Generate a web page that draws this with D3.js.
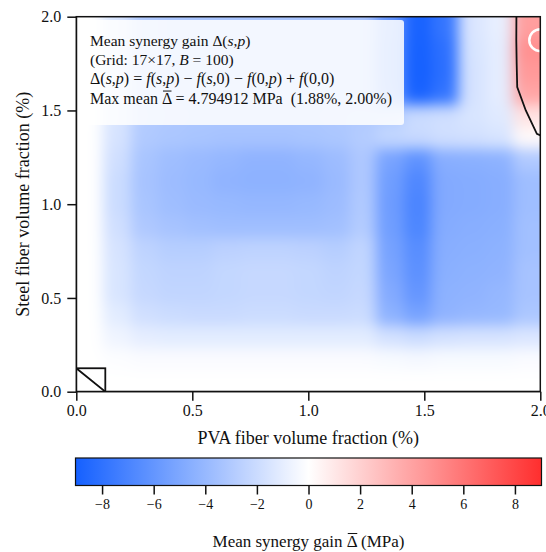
<!DOCTYPE html>
<html><head><meta charset="utf-8">
<script src="https://cdn.jsdelivr.net/npm/d3@7"></script>
<style>
body{margin:0;background:#fff}
svg{display:block}
text{font-family:"Liberation Serif","Times New Roman",serif;fill:#111;white-space:pre}
</style>
</head><body>
<svg id="chart" width="546" height="552"></svg>
<script>
// grid levels (%)
const pvaLevels   = [0,0.125,0.25,0.375,0.5,0.625,0.75,0.875,1.0,1.125,1.25,1.375,1.5,1.625,1.75,1.875,2.0];
const steelLevels = [0,0.125,0.25,0.375,0.5,0.625,0.75,0.875,1.0,1.125,1.25,1.375,1.5,1.625,1.75,1.875,2.0];
// mean synergy gain (MPa); one row per steel level (bottom to top), columns follow pvaLevels
const meanDelta = [
 [0,0,0,0,0,0,0,0,0,0,0,0,0,0,0,0,0],
 [0,-0.1,-0.2,-0.2,-0.2,-0.2,-0.2,-0.2,-0.2,-0.2,-0.2,-0.3,-0.4,-0.3,-0.3,-0.3,-0.2],
 [0,-0.6,-1.0,-1.1,-1.1,-1.1,-1.1,-1.1,-1.1,-1.1,-1.1,-1.7,-2.0,-1.7,-1.6,-1.6,-1.4],
 [0,-1.1,-1.8,-2.0,-2.1,-2.1,-2.0,-2.0,-2.1,-2.1,-2.0,-4.4,-5.3,-4.3,-4.1,-4.0,-3.2],
 [0,-1.5,-2.2,-2.4,-2.4,-2.3,-2.2,-2.2,-2.3,-2.4,-2.2,-4.8,-6.0,-4.4,-4.3,-4.1,-3.4],
 [0,-1.5,-2.3,-2.5,-2.5,-2.3,-2.2,-2.2,-2.3,-2.5,-2.3,-5.1,-6.3,-4.5,-4.4,-4.3,-3.4],
 [0,-1.6,-2.5,-2.8,-2.8,-2.6,-2.5,-2.5,-2.6,-2.8,-2.4,-5.3,-6.5,-4.6,-4.5,-4.4,-3.6],
 [0,-1.8,-3.1,-3.4,-3.6,-3.7,-3.7,-3.7,-3.7,-3.6,-2.9,-5.5,-6.9,-4.7,-4.6,-4.5,-3.6],
 [0,-2.0,-3.3,-3.7,-3.9,-4.0,-4.1,-4.1,-4.0,-3.8,-3.0,-5.6,-7.0,-4.8,-4.7,-4.6,-3.7],
 [0,-2.0,-3.4,-3.8,-4.0,-4.3,-4.4,-4.4,-4.3,-3.9,-3.1,-5.5,-6.8,-4.8,-4.7,-4.6,-3.7],
 [0,-1.8,-3.3,-3.7,-3.9,-4.1,-4.3,-4.3,-4.1,-3.8,-3.1,-5.2,-6.2,-4.6,-4.5,-4.4,-3.0],
 [0,-1.6,-3.0,-3.2,-3.3,-3.4,-3.4,-3.4,-3.3,-3.2,-2.9,-2.3,-2.1,-1.8,-1.7,-1.5,0.2],
 [0,-1.5,-2.9,-3.1,-3.2,-3.2,-3.2,-3.2,-3.2,-3.1,-3.0,-2.8,-2.0,-1.8,-1.5,-1.2,1.2],
 [0,-1.5,-3.0,-3.2,-3.3,-3.3,-3.3,-3.3,-3.3,-3.3,-3.4,-6.0,-8.9,-7.9,-1.6,-1.0,3.9],
 [0,-1.5,-3.0,-3.2,-3.3,-3.3,-3.3,-3.3,-3.3,-3.3,-3.4,-6.2,-9.03,-8.2,-1.6,-1.0,4.4],
 [0,-1.5,-3.0,-3.2,-3.3,-3.3,-3.3,-3.3,-3.3,-3.3,-3.4,-6.2,-9.0,-8.1,-1.5,-1.0,4.794912],
 [0,-1.5,-3.0,-3.2,-3.3,-3.3,-3.3,-3.3,-3.3,-3.3,-3.4,-6.0,-8.9,-7.8,-1.4,-0.9,4.2]
];
const axisTicks = [0, 0.5, 1.0, 1.5, 2.0];
const cbTicks = [-8,-6,-4,-2,0,2,4,6,8];
const colorLimit = 9.03;
const maxPVA = 2.0, maxSteel = 1.875, maxValue = 4.794912;
const contourLevels = [-1e-9];

const svg = d3.select("#chart");
const L = 76.3, R = 540.3, T = 16.7, B = 391.7;
const x = d3.scaleLinear().domain([0, 2]).range([L, R]);
const y = d3.scaleLinear().domain([0, 2]).range([B, T]);
const color = d3.scaleLinear().domain([-colorLimit, 0, colorLimit])
  .range(["#1560ff", "#ffffff", "#ff2e2e"]).clamp(true);
const nx = pvaLevels.length, ny = steelLevels.length;
// image cells span the full [0,2] extent
const colOf = d3.scaleQuantize().domain([0, 2]).range(d3.range(nx));
const rowOf = d3.scaleQuantize().domain([0, 2]).range(d3.range(ny));

// ---- heatmap image (cells, then smoothed) ----
const W = Math.round(R - L), H = Math.round(B - T);
const chans = [new Float32Array(W * H), new Float32Array(W * H), new Float32Array(W * H)];
for (let py = 0; py < H; py++) {
  const s = y.invert(T + (py + 0.5) * (B - T) / H);
  const i = rowOf(s);
  for (let px = 0; px < W; px++) {
    const p = x.invert(L + (px + 0.5) * (R - L) / W);
    const c = d3.rgb(color(meanDelta[i][colOf(p)]));
    const k = py * W + px;
    chans[0][k] = c.r; chans[1][k] = c.g; chans[2][k] = c.b;
  }
}
const sigma = 7, rad = Math.ceil(sigma * 3);
const kern = d3.range(-rad, rad + 1).map(d => Math.exp(-d * d / (2 * sigma * sigma)));
const ksum = d3.sum(kern);
function blur(a) {
  const tmp = new Float32Array(W * H), out = new Float32Array(W * H);
  for (let py = 0; py < H; py++) for (let px = 0; px < W; px++) {
    let acc = 0;
    for (let d = -rad; d <= rad; d++) {
      const xx = Math.max(0, Math.min(W - 1, px + d));
      acc += a[py * W + xx] * kern[d + rad];
    }
    tmp[py * W + px] = acc / ksum;
  }
  for (let py = 0; py < H; py++) for (let px = 0; px < W; px++) {
    let acc = 0;
    for (let d = -rad; d <= rad; d++) {
      const yy = Math.max(0, Math.min(H - 1, py + d));
      acc += tmp[yy * W + px] * kern[d + rad];
    }
    out[py * W + px] = acc / ksum;
  }
  return out;
}
const bl = chans.map(blur);
const canvas = document.createElement("canvas");
canvas.width = W; canvas.height = H;
const ctx = canvas.getContext("2d");
const img = ctx.createImageData(W, H);
for (let k = 0; k < W * H; k++) {
  img.data[4 * k] = bl[0][k]; img.data[4 * k + 1] = bl[1][k]; img.data[4 * k + 2] = bl[2][k]; img.data[4 * k + 3] = 255;
}
ctx.putImageData(img, 0, 0);

const defs = svg.append("defs");
defs.append("clipPath").attr("id", "plotClip").append("rect")
  .attr("x", L).attr("y", T).attr("width", R - L).attr("height", B - T);

svg.append("image").attr("x", L).attr("y", T).attr("width", R - L).attr("height", B - T)
  .attr("preserveAspectRatio", "none").attr("href", canvas.toDataURL());

// ---- zero contours (on grid coordinates) ----
const stepX = pvaLevels[1] - pvaLevels[0], stepY = steelLevels[1] - steelLevels[0];
const flat = [];
for (let i = 0; i < ny; i++) for (let j = 0; j < nx; j++) flat.push(meanDelta[i][j]);
const contours = d3.contours().size([nx, ny]).thresholds(contourLevels)(flat);
const proj = d3.geoTransform({
  point: function(cx, cy) {
    this.stream.point(x(pvaLevels[0] + (cx - 0.5) * stepX), y(steelLevels[0] + (cy - 0.5) * stepY));
  }
});
const cg = svg.append("g").attr("clip-path", "url(#plotClip)");
cg.selectAll("path").data(contours).join("path")
  .attr("d", d3.geoPath(proj)).attr("fill", "none").attr("stroke", "#111").attr("stroke-width", 1.8);
// reference cell at the origin (all terms zero)
cg.append("rect").attr("x", x(pvaLevels[0])).attr("y", y(steelLevels[1]))
  .attr("width", x(pvaLevels[1]) - x(pvaLevels[0])).attr("height", y(steelLevels[0]) - y(steelLevels[1]))
  .attr("fill", "none").attr("stroke", "#111").attr("stroke-width", 1.8);

// max marker
cg.append("circle")
  .attr("cx", x(maxPVA)).attr("cy", y(maxSteel)).attr("r", 11)
  .attr("fill", "none").attr("stroke", "#fff").attr("stroke-width", 2.5);

// ---- text box ----
const box = svg.append("g");
box.append("rect").attr("x", 80).attr("y", 20).attr("width", 324).attr("height", 105)
  .attr("rx", 3).attr("fill", "#fff").attr("fill-opacity", 0.86);
function addLine(yy, fs, parts) {
  const t = box.append("text").attr("x", 90).attr("y", yy).attr("font-size", fs);
  return parts.map(pt => {
    const sp = t.append("tspan").text(pt[0]);
    if (pt[1] === 1) sp.attr("font-style", "italic");
    return sp;
  });
}
function overline(parent, sp) {
  const bb = sp.node().getBBox();
  parent.append("line").attr("x1", bb.x + 1).attr("x2", bb.x + bb.width - 0.5)
    .attr("y1", bb.y + bb.height * 0.08).attr("y2", bb.y + bb.height * 0.08)
    .attr("stroke", "#111").attr("stroke-width", 1);
}
addLine(46, 15.5, [["Mean synergy gain Δ("], ["s", 1], [","], ["p", 1], [")"]]);
addLine(65.3, 15.5, [["(Grid: 17×17, "], ["B", 1], [" = 100)"]]);
addLine(84, 16, [["Δ("], ["s", 1], [","], ["p", 1], [") = "], ["f", 1], ["("], ["s", 1], [","], ["p", 1], [") − "],
  ["f", 1], ["("], ["s", 1], [",0) − "], ["f", 1], ["(0,"], ["p", 1], [") + "], ["f", 1], ["(0,0)"]]);
const l4 = addLine(103.7, 16, [["Max mean "], ["Δ", 2], [" = " + maxValue.toFixed(6) + " MPa  (" + maxSteel.toFixed(2) + "%, " + maxPVA.toFixed(2) + "%)"]]);
overline(box, l4[1]);

// ---- axes ----
const xAxis = d3.axisBottom(x).tickValues(axisTicks).tickFormat(d3.format(".1f")).tickSize(9).tickPadding(4);
const yAxis = d3.axisLeft(y).tickValues(axisTicks).tickFormat(d3.format(".1f")).tickSize(9).tickPadding(6);
const gx = svg.append("g").attr("transform", `translate(0,${B})`).call(xAxis);
const gy = svg.append("g").attr("transform", `translate(${L},0)`).call(yAxis);
[gx, gy].forEach(g => {
  g.select(".domain").remove();
  g.selectAll(".tick line").attr("stroke", "#111").attr("stroke-width", 1.5);
  g.selectAll(".tick text").attr("font-size", 16).attr("font-family", "Liberation Serif").attr("fill", "#111");
});
svg.append("rect").attr("x", L).attr("y", T).attr("width", R - L).attr("height", B - T)
  .attr("fill", "none").attr("stroke", "#111").attr("stroke-width", 1.5);

svg.append("text").attr("x", (L + R) / 2).attr("y", 444).attr("text-anchor", "middle")
  .attr("font-size", 18).text("PVA fiber volume fraction (%)");
svg.append("text").attr("transform", `translate(29,${(T + B) / 2}) rotate(-90)`).attr("text-anchor", "middle")
  .attr("font-size", 18).text("Steel fiber volume fraction (%)");

// ---- colorbar ----
const cbL = 75.5, cbR = 541.5, cbT = 458, cbB = 485.5;
const cbx = d3.scaleLinear().domain([-colorLimit, colorLimit]).range([cbL, cbR]);
const grad = defs.append("linearGradient").attr("id", "cbGrad");
d3.range(0, 1.0001, 0.05).forEach(f => {
  grad.append("stop").attr("offset", f).attr("stop-color", color(-colorLimit + f * 2 * colorLimit));
});
svg.append("rect").attr("x", cbL).attr("y", cbT).attr("width", cbR - cbL).attr("height", cbB - cbT)
  .attr("fill", "url(#cbGrad)").attr("stroke", "#111").attr("stroke-width", 1.2);
const cbAxis = d3.axisBottom(cbx).tickValues(cbTicks).tickFormat(d => d < 0 ? "−" + Math.abs(d) : String(d)).tickSize(9).tickPadding(5);
const gcb = svg.append("g").attr("transform", `translate(0,${cbB})`).call(cbAxis);
gcb.select(".domain").remove();
gcb.selectAll(".tick line").attr("stroke", "#111").attr("stroke-width", 1.5);
gcb.selectAll(".tick text").attr("font-size", 14).attr("font-family", "Liberation Serif").attr("fill", "#111");
const cbLab = svg.append("text").attr("x", (cbL + cbR) / 2).attr("y", 547).attr("text-anchor", "middle")
  .attr("font-size", 17);
cbLab.append("tspan").text("Mean synergy gain ");
const cbD = cbLab.append("tspan").text("Δ");
cbLab.append("tspan").text(" (MPa)");
overline(svg, cbD);
</script>
</body></html>
